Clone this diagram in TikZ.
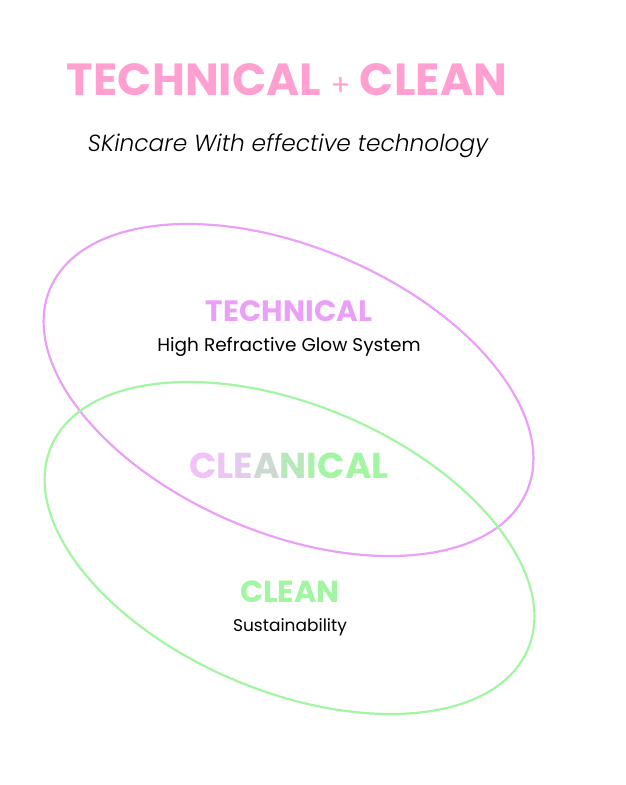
\documentclass[tikz,border=0pt]{standalone}
\usepackage{fontspec}
\setmainfont{Poppins}
\newfontfamily\handfont{Poppins Light}
\definecolor{titlepink}{RGB}{255,160,208}
\definecolor{techviolet}{RGB}{234,160,246}
\definecolor{cleangreen}{RGB}{162,246,162}
\definecolor{palepink}{RGB}{240,194,248}
\newcommand{\mixletter}[2]{{\color{palepink!#1!cleangreen}#2}}
\begin{document}
\begin{tikzpicture}[x=1pt, y=1pt,
    headline/.style={font=\bfseries\fontsize{#1}{#1}\selectfont},
    bodyline/.style={font=\fontsize{#1}{#1}\selectfont, text=black}]
    \useasboundingbox (0,0) rectangle (626,-785);
    % title and handwritten subtitle
    \node[headline=45, text=titlepink] (title) at (287,-80)
        {TECHNICAL {\mdseries\fontsize{29}{29}\selectfont+} CLEAN};
    \node[font=\handfont\itshape\fontsize{23.3}{23.3}\selectfont] (subtitle) at (288,-146)
        {SKincare With effective technology};

    % the two overlapping rings
    \draw[techviolet, line width=2.2] (288.5,-390) ellipse [x radius=259, y radius=143, rotate=-23];
    \draw[cleangreen, line width=2.2] (289.5,-548) ellipse [x radius=259, y radius=143, rotate=-23];

    % labels inside the rings
    \node[headline=29.5, text=techviolet] (technical) at (289,-311) {TECHNICAL};
    \node[bodyline=18.5] (glow) at (289,-347) {High Refractive Glow System};
    \node[headline=36] (cleanical) at (289,-466)
        {\mixletter{100}{C}\mixletter{95}{L}\mixletter{85}{E}\mixletter{55}{A}\mixletter{30}{N}\mixletter{10}{I}\mixletter{0}{C}\mixletter{0}{A}\mixletter{0}{L}};
    \node[headline=30.5, text=cleangreen] (clean) at (290,-592) {CLEAN};
    \node[bodyline=17] (sustain) at (290,-627) {Sustainability};
\end{tikzpicture}
\end{document}
